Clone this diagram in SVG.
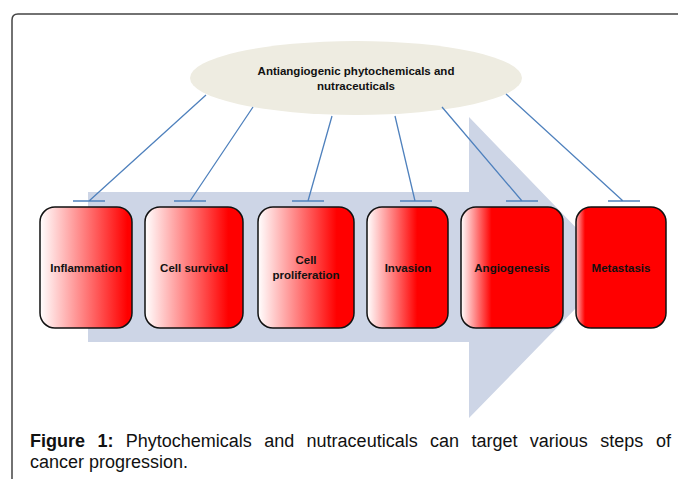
<svg xmlns="http://www.w3.org/2000/svg" width="678" height="479" viewBox="0 0 678 479">
<style>
.lbl{font-family:"Liberation Sans",Arial,sans-serif;font-weight:bold;font-size:11.5px;fill:#111;text-anchor:middle}
.box{stroke:#111;stroke-width:1.5}
.con{stroke:#4f81bd;stroke-width:1.3;fill:none}
.cap{font-family:"Liberation Sans",Arial,sans-serif;font-size:18px;fill:#111}
</style>
<defs>
<linearGradient id="g1" x1="0" y1="0" x2="1" y2="0"><stop offset="0" stop-color="#fff"/><stop offset="0.95" stop-color="#f00"/></linearGradient>
<linearGradient id="g2" x1="0" y1="0" x2="1" y2="0"><stop offset="0" stop-color="#fff"/><stop offset="0.85" stop-color="#f00"/></linearGradient>
<linearGradient id="g3" x1="0" y1="0" x2="1" y2="0"><stop offset="0" stop-color="#fff"/><stop offset="0.82" stop-color="#f00"/></linearGradient>
<linearGradient id="g4" x1="0" y1="0" x2="1" y2="0"><stop offset="0" stop-color="#fff"/><stop offset="0.62" stop-color="#f00"/></linearGradient>
<linearGradient id="g5" x1="0" y1="0" x2="1" y2="0"><stop offset="0" stop-color="#fff"/><stop offset="0.3" stop-color="#f00"/></linearGradient>
<linearGradient id="g6" x1="0" y1="0" x2="1" y2="0"><stop offset="0" stop-color="#ffb0b0"/><stop offset="0.1" stop-color="#f00"/></linearGradient>
</defs>
<rect width="678" height="479" fill="#fff"/>
<path d="M12,479 V20 Q12,14 18,14 H678" fill="none" stroke="#444" stroke-width="1.5"/>
<path d="M88,192 H469 V117 L615,268 L469,418 V342 H88 Z" fill="#cdd5e6"/>
<g id="source">
<ellipse cx="356" cy="78" rx="166" ry="37" fill="#eeece1"/>
<text class="lbl" x="356" y="75">Antiangiogenic phytochemicals and</text>
<text class="lbl" x="356" y="90">nutraceuticals</text>
</g>
<g id="connectors">
<path class="con" d="M206,95 L89,201 M73,201 H105"/>
<path class="con" d="M253,107 L190,201 M174,201 H206"/>
<path class="con" d="M332,116 L308,201 M292,201 H324"/>
<path class="con" d="M395,116 L415,201 M400,201 H432"/>
<path class="con" d="M442,107 L522,201 M506,201 H538"/>
<path class="con" d="M506,94 L623,201 M608,201 H640"/>
</g>
<g id="inflammation"><rect class="box" x="40" y="207" width="92" height="121" rx="15" fill="url(#g1)"/><text class="lbl" x="86" y="272">Inflammation</text></g>
<g id="cell-survival"><rect class="box" x="145" y="207" width="98" height="121" rx="15" fill="url(#g2)"/><text class="lbl" x="194" y="272">Cell survival</text></g>
<g id="cell-proliferation"><rect class="box" x="258" y="207" width="96" height="121" rx="15" fill="url(#g3)"/><text class="lbl" x="306" y="264">Cell</text><text class="lbl" x="306" y="279">proliferation</text></g>
<g id="invasion"><rect class="box" x="367" y="207" width="81" height="121" rx="15" fill="url(#g4)"/><text class="lbl" x="408" y="272">Invasion</text></g>
<g id="angiogenesis"><rect class="box" x="461" y="207" width="102" height="121" rx="15" fill="url(#g5)"/><text class="lbl" x="512" y="272">Angiogenesis</text></g>
<g id="metastasis"><rect class="box" x="576" y="207" width="90" height="121" rx="15" fill="url(#g6)"/><text class="lbl" x="621" y="272">Metastasis</text></g>
<g id="caption">
<text class="cap" y="447"><tspan x="30" font-weight="bold">Figure</tspan><tspan x="97.4" font-weight="bold">1:</tspan><tspan x="125.8">Phytochemicals</tspan><tspan x="264.2">and</tspan><tspan x="306.6">nutraceuticals</tspan><tspan x="430">can</tspan><tspan x="471.4">target</tspan><tspan x="529.8">various</tspan><tspan x="600.2">steps</tspan><tspan x="671" text-anchor="end">of</tspan></text>
<text class="cap" x="30" y="468">cancer progression.</text>
</g>
</svg>
